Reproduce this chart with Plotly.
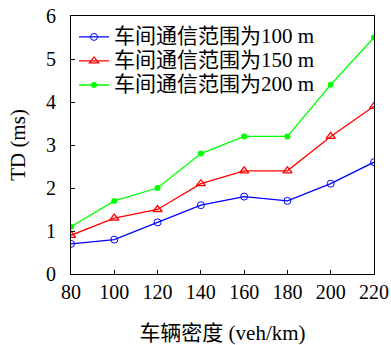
import plotly.graph_objects as go

# Vehicle density (veh/km)
density = [80, 100, 120, 140, 160, 180, 200, 220]

# Transmission delay TD (ms) for each inter-vehicle communication range
td_100m = [0.7, 0.8, 1.2, 1.6, 1.8, 1.7, 2.1, 2.6]
td_150m = [0.9, 1.3, 1.5, 2.1, 2.4, 2.4, 3.2, 3.9]
td_200m = [1.1, 1.7, 2.0, 2.8, 3.2, 3.2, 4.4, 5.5]

series_names = ["车间通信范围为100 m", "车间通信范围为150 m", "车间通信范围为200 m"]

FONT = "Liberation Serif, 'Noto Sans CJK SC', serif"


def legend_label(text):
    # legend rows are packed tightly, while the label glyphs stay full size
    return f'<span style="font-size:21px">{text}</span>'


fig = go.Figure()
fig.add_trace(go.Scatter(
    x=density, y=td_100m, name=legend_label(series_names[0]), mode="lines+markers",
    line=dict(color="#0000ff", width=1.3),
    marker=dict(symbol="circle-open", size=7, color="#0000ff", line=dict(width=1)),
))
fig.add_trace(go.Scatter(
    x=density, y=td_150m, name=legend_label(series_names[1]), mode="lines+markers",
    line=dict(color="#ff0000", width=1.3),
    marker=dict(symbol="triangle-up-open", size=8, color="#ff0000", line=dict(width=1.3)),
))
fig.add_trace(go.Scatter(
    x=density, y=td_200m, name=legend_label(series_names[2]), mode="lines+markers",
    line=dict(color="#00ff00", width=1.3),
    marker=dict(symbol="circle", size=6, color="#00ff00"),
))

axis_common = dict(
    showline=True, linecolor="black", linewidth=1.2, mirror=True,
    ticks="inside", ticklen=4, tickwidth=1, tickcolor="black",
    showgrid=False, zeroline=False, automargin=False,
    tickfont=dict(family=FONT, size=20, color="black"),
)

fig.update_xaxes(
    range=[80, 220], tickmode="array", tickvals=density,
    ticklabelstandoff=0,
    title=dict(text="车辆密度 (veh/km)", font=dict(family=FONT, size=21, color="black"), standoff=23),
    **axis_common,
)
fig.update_yaxes(
    range=[0, 6], dtick=1, tick0=0,
    ticklabelstandoff=10,
    title=dict(text="TD (ms)", font=dict(family=FONT, size=21, color="black"), standoff=14),
    **axis_common,
)

fig.update_layout(
    width=391, height=345,
    margin=dict(l=71, r=17, t=16, b=71),
    paper_bgcolor="white", plot_bgcolor="white",
    font=dict(family=FONT, size=20, color="black"),
    showlegend=True,
    legend=dict(
        x=0.01, y=0.985, xanchor="left", yanchor="top",
        bgcolor="rgba(0,0,0,0)", borderwidth=0,
        font=dict(family=FONT, size=16.2, color="black"),
        itemwidth=30, tracegroupgap=0,
    ),
)

fig.write_html("out.html")
